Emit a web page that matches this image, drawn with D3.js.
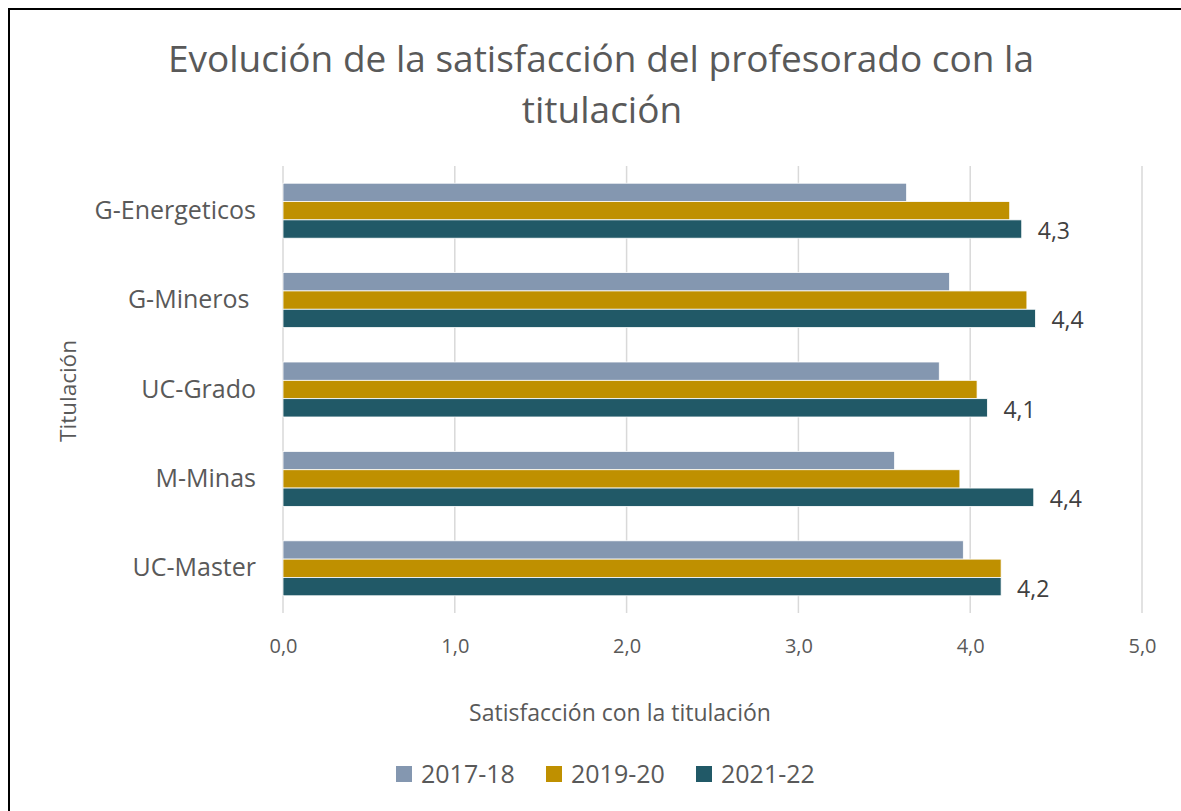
<!DOCTYPE html>
<html>
<head>
<meta charset="utf-8">
<script src="https://cdn.jsdelivr.net/npm/d3@7"></script>
<style>
  body { margin: 0; background: #fff; }
  text { font-family: "Open Sans", sans-serif; fill: #595959; }
</style>
</head>
<body>
<div id="chart"></div>
<script>
// data
var categories = ["G-Energeticos", "G-Mineros ", "UC-Grado", "M-Minas", "UC-Master"];
var seriesNames = ["2017-18", "2019-20", "2021-22"];
var v2017 = [3.63, 3.88, 3.82, 3.56, 3.96];
var v2019 = [4.23, 4.33, 4.04, 3.94, 4.18];
var v2021 = [4.30, 4.38, 4.10, 4.37, 4.18];
var xTicks = [0, 1, 2, 3, 4, 5];
var colors = ["#8497b0", "#bf9000", "#215967"];

var width = 1181, height = 811;
var margin = { left: 283, right: 39, top: 166, bottom: 198 };

var svg = d3.select("#chart").append("svg")
    .attr("width", width)
    .attr("height", height);

// frame
svg.append("rect")
    .attr("x", 9).attr("y", 9)
    .attr("width", width + 20).attr("height", height + 20)
    .attr("fill", "none")
    .attr("stroke", "#000")
    .attr("stroke-width", 2);

var x = d3.scaleLinear()
    .domain([0, 5])
    .range([margin.left, width - margin.right]);

var y = d3.scaleBand()
    .domain(categories)
    .range([margin.top, height - margin.bottom])
    .paddingInner(0.385)
    .paddingOuter(0.1925);

var ySub = d3.scaleBand()
    .domain(seriesNames)
    .range([0, y.bandwidth()]);

// gridlines
svg.append("g")
    .selectAll("line")
    .data(xTicks)
    .enter().append("line")
        .attr("x1", function(d) { return x(d); })
        .attr("x2", function(d) { return x(d); })
        .attr("y1", margin.top)
        .attr("y2", height - margin.bottom)
        .attr("stroke", "#d9d9d9")
        .attr("stroke-width", 1.5);

// x axis
var xAxis = d3.axisBottom(x)
    .tickValues(xTicks)
    .tickSize(0)
    .tickPadding(26)
    .tickFormat(function(d) { return d3.format(".1f")(d).replace(".", ","); });
var xAxisGroup = svg.append("g")
    .attr("transform", "translate(0," + (height - margin.bottom) + ")")
    .call(xAxis);
xAxisGroup.select(".domain").remove();
xAxisGroup.selectAll("text")
    .style("font-family", "Open Sans, sans-serif")
    .style("font-size", "20px")
    .attr("fill", "#595959");

// y axis
var yAxis = d3.axisLeft(y).tickSize(0).tickPadding(27);
var yAxisGroup = svg.append("g")
    .attr("transform", "translate(" + margin.left + ",0)")
    .call(yAxis);
yAxisGroup.select(".domain").remove();
yAxisGroup.selectAll("text")
    .style("font-family", "Open Sans, sans-serif")
    .style("font-size", "25px")
    .style("white-space", "pre")
    .attr("fill", "#595959");

// bars
var allSeries = [v2017, v2019, v2021];
allSeries.forEach(function(vals, si) {
    svg.append("g")
        .selectAll("rect")
        .data(vals)
        .enter().append("rect")
            .attr("x", x(0))
            .attr("y", function(d, i) { return y(categories[i]) + ySub(seriesNames[si]); })
            .attr("width", function(d) { return x(d) - x(0); })
            .attr("height", ySub.bandwidth())
            .attr("fill", colors[si])
            .attr("stroke", "#fff")
            .attr("stroke-width", 0.8);
});

// data labels for last series
svg.append("g")
    .selectAll("text")
    .data(v2021)
    .enter().append("text")
        .attr("x", function(d) { return x(d) + 16; })
        .attr("y", function(d, i) { return y(categories[i]) + ySub("2021-22") + ySub.bandwidth() / 2 + 10; })
        .style("font-size", "23px")
        .style("fill", "#404040")
        .text(function(d) { return d3.format(".1f")(d).replace(".", ","); });

// title
var title = svg.append("text")
    .attr("text-anchor", "middle")
    .style("font-size", "37px");
title.append("tspan").attr("x", 601).attr("y", 72).text("Evolución de la satisfacción del profesorado con la");
title.append("tspan").attr("x", 602).attr("y", 123).text("titulación");

// axis titles
svg.append("text")
    .attr("x", 620).attr("y", 721)
    .attr("text-anchor", "middle")
    .style("font-size", "23px")
    .text("Satisfacción con la titulación");

svg.append("text")
    .attr("transform", "translate(76,391) rotate(-90)")
    .attr("text-anchor", "middle")
    .style("font-size", "22.5px")
    .text("Titulación");

// legend
var legendX = [396, 546, 696];
var legend = svg.append("g");
seriesNames.forEach(function(name, i) {
    legend.append("rect")
        .attr("x", legendX[i]).attr("y", 766)
        .attr("width", 16).attr("height", 16)
        .attr("fill", colors[i]);
    legend.append("text")
        .attr("x", legendX[i] + 25).attr("y", 783)
        .style("font-size", "25px")
        .text(name);
});
</script>
</body>
</html>
